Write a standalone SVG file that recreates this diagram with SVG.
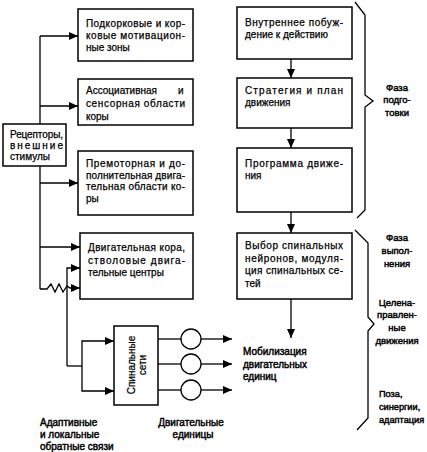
<svg xmlns="http://www.w3.org/2000/svg" width="427" height="452" viewBox="0 0 427 452">
<style>
.box{fill:#fff;stroke:#000;stroke-width:1.5}
.ln{fill:none;stroke:#000;stroke-width:1.3}
.arr{fill:none;stroke:#000;stroke-width:1.3;marker-end:url(#ah)}
text{font-family:"Liberation Sans",Arial,sans-serif;font-size:10px;fill:#000;stroke:#000;stroke-width:0.25}
.b{stroke-width:0.45}
.lab{stroke-width:0.45;font-size:9.5px;text-anchor:middle}
.lab2{stroke-width:0.45;font-size:9.2px}
</style>
<defs>
<marker id="ah" markerUnits="userSpaceOnUse" markerWidth="9" markerHeight="8" refX="9" refY="4" orient="auto">
<path d="M0,0 L9,4 L0,8 z" fill="#000"/>
</marker>
</defs>
<rect width="427" height="452" fill="#fff"/>

<g id="connectors">
<polyline class="ln" points="40,36 40,124"/>
<polyline class="ln" points="40,166 40,289"/>
<line class="arr" x1="40" y1="36" x2="78" y2="36"/>
<line class="arr" x1="40" y1="106" x2="78" y2="106"/>
<line class="arr" x1="40" y1="183" x2="78" y2="183"/>
<line class="arr" x1="40" y1="247" x2="80" y2="247"/>
<polyline class="arr" points="40,289 47,289 51,284 55,292 59,284 63,292 67,286 70,288 80,288"/>
<polyline class="arr" points="67,366 67,268 80,268"/>
<polyline class="ln" points="67,366 82,366"/>
<polyline class="arr" points="82,366 82,341 114,341"/>
<polyline class="arr" points="82,366 82,391 114,391"/>
<line class="ln" x1="158" y1="339" x2="181" y2="339"/>
<line class="ln" x1="158" y1="364" x2="181" y2="364"/>
<line class="ln" x1="158" y1="390" x2="181" y2="390"/>
<line class="arr" x1="201" y1="339" x2="232" y2="339"/>
<line class="arr" x1="201" y1="364" x2="232" y2="364"/>
<line class="arr" x1="201" y1="390" x2="232" y2="390"/>
<line class="arr" x1="291" y1="59" x2="291" y2="78"/>
<line class="arr" x1="291" y1="128" x2="291" y2="148"/>
<line class="arr" x1="291" y1="212" x2="291" y2="233"/>
<line class="arr" x1="291" y1="299" x2="291" y2="338"/>
<polyline class="ln" points="355,2 365,15 365,95 373,101 365,107 365,210 357,218"/>
<polyline class="ln" points="355,230 368,243 368,317 374,324 368,331 368,418 357,430"/>
</g>

<g id="receptors">
<rect class="box" x="3" y="124" width="63" height="42"/>
<text x="10" y="138" textLength="53" lengthAdjust="spacing">Рецепторы,</text>
<text x="10" y="149" textLength="53" lengthAdjust="spacing">внешние</text>
<text x="10" y="160">стимулы</text>
</g>

<g id="subcortical">
<rect class="box" x="78" y="9" width="115" height="52"/>
<text x="86" y="27" textLength="99" lengthAdjust="spacing">Подкорковые и кор-</text>
<text x="86" y="39" textLength="99" lengthAdjust="spacing">ковые мотивацион-</text>
<text x="86" y="51">ные зоны</text>
</g>

<g id="associative">
<rect class="box" x="78" y="79" width="115" height="46"/>
<text x="86" y="94"><tspan>Ассоциативная</tspan><tspan x="178">и</tspan></text>
<text x="86" y="107" textLength="99" lengthAdjust="spacing">сенсорная области</text>
<text x="86" y="120">коры</text>
</g>

<g id="premotor">
<rect class="box" x="78" y="151" width="115" height="64"/>
<text x="86" y="167" textLength="99" lengthAdjust="spacing">Премоторная и до-</text>
<text x="86" y="178.5" textLength="99" lengthAdjust="spacing">полнительная двига-</text>
<text x="86" y="190" textLength="99" lengthAdjust="spacing">тельная области ко-</text>
<text x="86" y="201.5">ры</text>
</g>

<g id="motorcortex">
<rect class="box" x="80" y="233" width="113" height="66"/>
<text x="88" y="251" textLength="97" lengthAdjust="spacing">Двигательная кора,</text>
<text x="88" y="263.5" textLength="97" lengthAdjust="spacing">стволовые двига-</text>
<text x="88" y="276">тельные центры</text>
</g>

<g id="spinal">
<rect class="box" x="114" y="326" width="44" height="79"/>
<text transform="translate(135,365) rotate(-90)" text-anchor="middle">Спинальные</text>
<text transform="translate(146,365) rotate(-90)" text-anchor="middle">сети</text>
</g>

<g id="units">
<circle class="box" cx="191" cy="339" r="10" style="stroke-width:1.3"/>
<circle class="box" cx="191" cy="364" r="10" style="stroke-width:1.3"/>
<circle class="box" cx="191" cy="390" r="10" style="stroke-width:1.3"/>
</g>

<g id="impulse">
<rect class="box" x="237" y="7" width="115" height="52"/>
<text x="245" y="26" textLength="98" lengthAdjust="spacing">Внутреннее побуж-</text>
<text x="245" y="37.5">дение к действию</text>
</g>

<g id="strategy">
<rect class="box" x="237" y="78" width="115" height="50"/>
<text x="245" y="94" textLength="98" lengthAdjust="spacing">Стратегия и план</text>
<text x="245" y="106">движения</text>
</g>

<g id="program">
<rect class="box" x="237" y="148" width="115" height="64"/>
<text x="245" y="167" textLength="98" lengthAdjust="spacing">Программа движе-</text>
<text x="245" y="178.5">ния</text>
</g>

<g id="selection">
<rect class="box" x="237" y="233" width="115" height="66"/>
<text x="245" y="249" textLength="98" lengthAdjust="spacing">Выбор спинальных</text>
<text x="245" y="261.5" textLength="98" lengthAdjust="spacing">нейронов, модуля-</text>
<text x="245" y="274" textLength="98" lengthAdjust="spacing">ция спинальных се-</text>
<text x="245" y="286.5">тей</text>
</g>

<g id="labels">
<text x="243" y="355" class="b">Мобилизация</text>
<text x="243" y="367.5" class="b">двигательных</text>
<text x="243" y="380" class="b">единиц</text>
<text x="40" y="426" class="b">Адаптивные</text>
<text x="40" y="438" class="b">и локальные</text>
<text x="40" y="450" class="b">обратные связи</text>
<text x="191" y="426" class="b" text-anchor="middle">Двигательные</text>
<text x="193" y="438" class="b" text-anchor="middle">единицы</text>
<text x="397" y="91" class="lab">Фаза</text>
<text x="397" y="103" class="lab">подго-</text>
<text x="397" y="116" class="lab">товки</text>
<text x="397" y="241" class="lab">Фаза</text>
<text x="397" y="254" class="lab">выпол-</text>
<text x="397" y="267" class="lab">нения</text>
<text x="397" y="306" class="lab">Целена-</text>
<text x="397" y="318" class="lab">правлен-</text>
<text x="397" y="331" class="lab">ные</text>
<text x="397" y="344" class="lab">движения</text>
<text x="379" y="397" class="lab2">Поза,</text>
<text x="379" y="410" class="lab2">синергии,</text>
<text x="379" y="423" class="lab2">адаптация</text>
</g>
</svg>
